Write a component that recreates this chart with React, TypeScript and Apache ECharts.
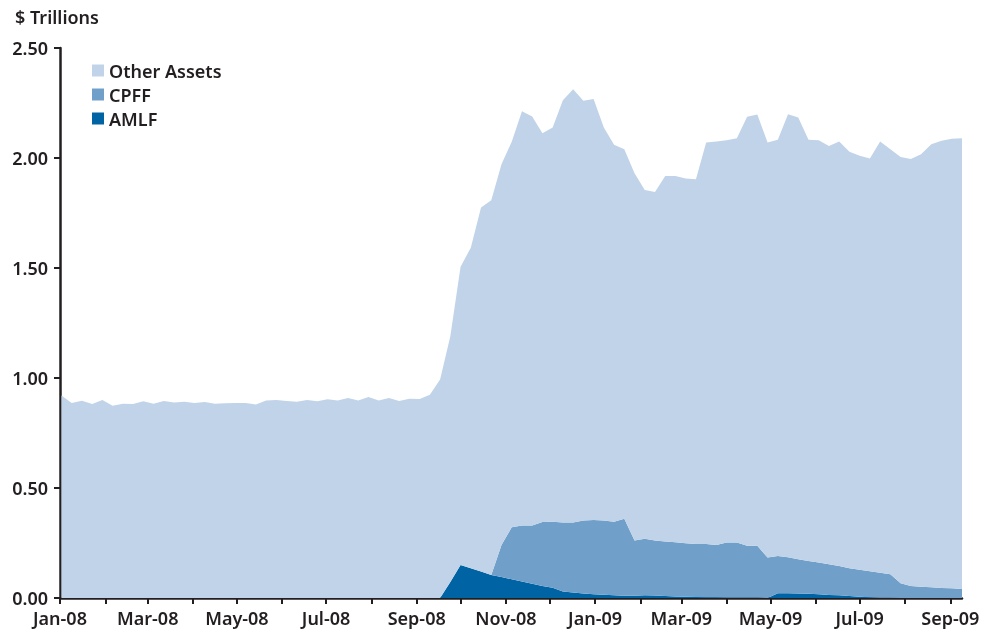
import React, { useEffect, useRef } from "react";
import * as echarts from "echarts";

// Weekly observations (Wednesdays), starting 2 Jan 2008
const FIRST_WEEK = "2008-01-02";
const AXIS_START = "2008-01-01";

const monthLabels = [
  "Jan-08", "Feb-08", "Mar-08", "Apr-08", "May-08", "Jun-08", "Jul-08",
  "Aug-08", "Sep-08", "Oct-08", "Nov-08", "Dec-08", "Jan-09", "Feb-09",
  "Mar-09", "Apr-09", "May-09", "Jun-09", "Jul-09", "Aug-09", "Sep-09",
];

const yTicks = [0, 0.5, 1, 1.5, 2, 2.5];

const otherAssets = [
  0.92, 0.886, 0.897, 0.882, 0.9, 0.874, 0.883, 0.882, 0.894, 0.883,
  0.896, 0.889, 0.892, 0.886, 0.891, 0.883, 0.885, 0.886, 0.886, 0.88,
  0.898, 0.9, 0.896, 0.892, 0.9, 0.894, 0.903, 0.898, 0.909, 0.898,
  0.914, 0.898, 0.909, 0.896, 0.906, 0.905, 0.924, 0.993, 1.117, 1.356,
  1.457, 1.655, 1.703, 1.731, 1.752, 1.883, 1.86, 1.768, 1.792, 1.92,
  1.97, 1.908, 1.913, 1.787, 1.713, 1.68, 1.67, 1.586, 1.585, 1.661,
  1.665, 1.658, 1.657, 1.826, 1.834, 1.829, 1.838, 1.95, 1.961, 1.887,
  1.892, 2.014, 2.008, 1.915, 1.92, 1.902, 1.929, 1.893, 1.882, 1.876,
  1.96, 1.932, 1.938, 1.94, 1.966, 2.014, 2.032, 2.043, 2.049,
];

const cpff = [
  0, 0, 0, 0, 0, 0, 0, 0, 0, 0,
  0, 0, 0, 0, 0, 0, 0, 0, 0, 0,
  0, 0, 0, 0, 0, 0, 0, 0, 0, 0,
  0, 0, 0, 0, 0, 0, 0, 0, 0, 0,
  0, 0, 0, 0.146, 0.237, 0.254, 0.264, 0.29, 0.3, 0.313,
  0.318, 0.332, 0.338, 0.337, 0.335, 0.35, 0.251, 0.257, 0.25, 0.248,
  0.246, 0.243, 0.241, 0.242, 0.238, 0.25, 0.25, 0.235, 0.235, 0.184,
  0.169, 0.163, 0.155, 0.149, 0.144, 0.139, 0.134, 0.126, 0.122, 0.119,
  0.114, 0.107, 0.067, 0.055, 0.051, 0.049, 0.046, 0.044, 0.041,
];

const amlf = [
  0, 0, 0, 0, 0, 0, 0, 0, 0, 0,
  0, 0, 0, 0, 0, 0, 0, 0, 0, 0,
  0, 0, 0, 0, 0, 0, 0, 0, 0, 0,
  0, 0, 0, 0, 0, 0, 0, 0, 0.073, 0.15,
  0.135, 0.12, 0.105, 0.095, 0.085, 0.075, 0.065, 0.055, 0.047, 0.03,
  0.025, 0.02, 0.017, 0.015, 0.012, 0.01, 0.01, 0.012, 0.011, 0.009,
  0.007, 0.006, 0.005, 0.003, 0.003, 0.002, 0.002, 0.002, 0.002, 0,
  0.022, 0.022, 0.021, 0.019, 0.017, 0.014, 0.012, 0.009, 0.006, 0.003,
  0.001, 0.001, 0, 0, 0, 0, 0, 0, 0,
];

const COLORS = { other: "#c0d3e8", cpff: "#70a0ca", amlf: "#0063a3" };
const INK = "#231f20";
const FONT = "'Noto Sans', sans-serif";

const DAY = 86400000;
const axisStart = Date.parse(AXIS_START + "T00:00:00Z");
const firstWeekDay = (Date.parse(FIRST_WEEK + "T00:00:00Z") - axisStart) / DAY;
// x position of each weekly point, in days since the axis start
const weekDays: number[] = otherAssets.map((_, i) => firstWeekDay + 7 * i);
// x position of each month start, in days since the axis start
const monthDays: number[] = monthLabels.map(
  (_, i) => Math.round((Date.UTC(2008, i, 1) - axisStart) / DAY)
);

export default function App() {
  const ref = useRef<HTMLDivElement>(null);
  useEffect(() => {
    if (!ref.current) return;
    const chart = echarts.init(ref.current, undefined, { renderer: "svg" });
    // value first, so that the stack runs on the value (y) dimension
    const pair = (arr: number[]) => arr.map((v, i) => [v, weekDays[i]]);
    const area = (name: string, data: number[], color: string) => ({
      name,
      type: "line",
      stack: "total",
      encode: { x: 1, y: 0 },
      data: pair(data),
      symbol: "none",
      showSymbol: false,
      lineStyle: { width: 0 },
      areaStyle: { color, opacity: 1 },
      itemStyle: { color },
      emphasis: { disabled: true },
    });
    const labelFor = (v: number) => {
      const idx = monthDays.findIndex((d) => Math.abs(d - v) < 0.5);
      return idx >= 0 ? monthLabels[idx] : "";
    };
    chart.setOption({
      animation: false,
      textStyle: { fontFamily: FONT },
      title: {
        text: "$ Trillions",
        left: 10,
        top: 3,
        textStyle: { fontFamily: FONT, fontSize: 18, fontWeight: 600, color: INK },
      },
      legend: {
        orient: "vertical",
        left: 87,
        top: 56,
        itemWidth: 12,
        itemHeight: 12,
        itemGap: 5,
        icon: "rect",
        data: ["Other Assets", "CPFF", "AMLF"],
        textStyle: { fontFamily: FONT, fontSize: 18, fontWeight: 600, color: INK, lineHeight: 19 },
      },
      grid: { left: 60, right: 25, top: 48, bottom: 33, containLabel: false },
      xAxis: {
        type: "value",
        min: 0,
        max: weekDays[weekDays.length - 1],
        splitLine: { show: false },
        axisLine: { lineStyle: { color: INK, width: 2.5 } },
        axisTick: {
          length: 6,
          lineStyle: { color: INK, width: 2 },
          customValues: monthDays,
        },
        axisLabel: {
          customValues: monthDays.filter((_, i) => i % 2 === 0),
          formatter: (v: number) => labelFor(v),
          fontFamily: FONT,
          fontSize: 18,
          fontWeight: 600,
          color: INK,
          lineHeight: 18,
          margin: 11,
        },
      },
      yAxis: {
        type: "value",
        min: yTicks[0],
        max: yTicks[yTicks.length - 1],
        interval: 0.5,
        splitLine: { show: false },
        axisLine: { show: true, lineStyle: { color: INK, width: 2.5 } },
        axisTick: { show: true, length: 6, lineStyle: { color: INK, width: 2 } },
        axisLabel: {
          formatter: (v: number) => v.toFixed(2),
          fontFamily: FONT,
          fontSize: 18,
          fontWeight: 600,
          color: INK,
          lineHeight: 14,
          margin: 12,
        },
      },
      series: [
        area("AMLF", amlf, COLORS.amlf),
        area("CPFF", cpff, COLORS.cpff),
        area("Other Assets", otherAssets, COLORS.other),
      ],
    });
    return () => chart.dispose();
  }, []);
  return (
    <div
      ref={ref}
      style={{ position: "fixed", left: 0, top: 0, width: 987, height: 631 }}
    />
  );
}
